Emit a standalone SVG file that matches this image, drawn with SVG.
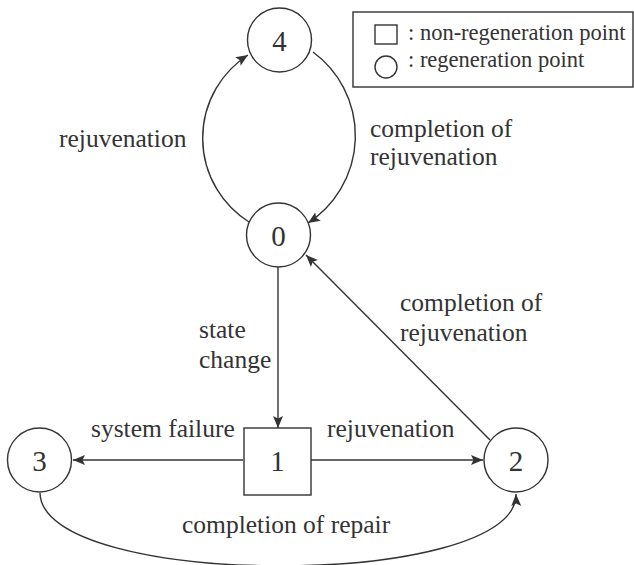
<svg xmlns="http://www.w3.org/2000/svg" width="634" height="565" viewBox="0 0 634 565">
<defs>
<style>
.node{fill:#fff;stroke:#333;stroke-width:1.4}
.edge{fill:none;stroke:#333;stroke-width:1.4}
.lbl{font-family:"Liberation Serif","Times New Roman",serif;font-size:25.5px;fill:#333}
.num{font-family:"Liberation Serif","Times New Roman",serif;font-size:29px;fill:#333;text-anchor:middle}
.leg{font-family:"Liberation Serif","Times New Roman",serif;font-size:22.5px;fill:#333}
</style>
<marker id="arr" markerUnits="userSpaceOnUse" markerWidth="14" markerHeight="12" refX="12" refY="5" orient="auto" viewBox="0 0 14 10">
<path d="M0,0 L12,5 L0,10 L2.5,5 z" fill="#333"/>
</marker>
</defs>
<rect width="634" height="565" fill="#fff"/>
<g id="legend">
<rect x="353" y="12" width="280" height="75" class="node"/>
<rect x="375" y="25" width="22" height="19" class="node"/>
<circle cx="386" cy="67" r="11" class="node"/>
<text x="408" y="40" class="leg">: non-regeneration point</text>
<text x="408" y="67" class="leg">: regeneration point</text>
</g>
<g id="connectors">
<path class="edge" marker-end="url(#arr)" d="M249,222 A99,99 0 0 1 248,55"/>
<path class="edge" marker-end="url(#arr)" d="M313,52 A104,104 0 0 1 308,223"/>
<path class="edge" marker-end="url(#arr)" d="M278,267 L278,428"/>
<path class="edge" marker-end="url(#arr)" d="M243,460 L73,460"/>
<path class="edge" marker-end="url(#arr)" d="M311,460 L483,460"/>
<path class="edge" marker-end="url(#arr)" d="M490,440 L306,255"/>
<path class="edge" marker-end="url(#arr)" d="M40,493 C42,590 518,590 516,494"/>
</g>
<g id="node4"><circle cx="279.5" cy="40" r="32" class="node"/><text x="279.5" y="50.5" class="num">4</text></g>
<g id="node0"><circle cx="278.5" cy="235" r="32" class="node"/><text x="278.5" y="245.5" class="num">0</text></g>
<g id="node1"><rect x="244" y="428" width="67" height="67" class="node"/><text x="277.5" y="470.5" class="num">1</text></g>
<g id="node3"><circle cx="39.5" cy="460" r="32" class="node"/><text x="39.5" y="470.5" class="num">3</text></g>
<g id="node2"><circle cx="516" cy="460" r="32" class="node"/><text x="516" y="470.5" class="num">2</text></g>
<g id="labels">
<text x="59" y="147" class="lbl">rejuvenation</text>
<text x="370" y="137" class="lbl">completion of</text>
<text x="370" y="165" class="lbl">rejuvenation</text>
<text x="400" y="311" class="lbl">completion of</text>
<text x="400" y="341" class="lbl">rejuvenation</text>
<text x="199" y="338" class="lbl">state</text>
<text x="199" y="368" class="lbl">change</text>
<text x="91" y="437" class="lbl">system failure</text>
<text x="327" y="437" class="lbl">rejuvenation</text>
<text x="182" y="533" class="lbl">completion of repair</text>
</g>
</svg>
